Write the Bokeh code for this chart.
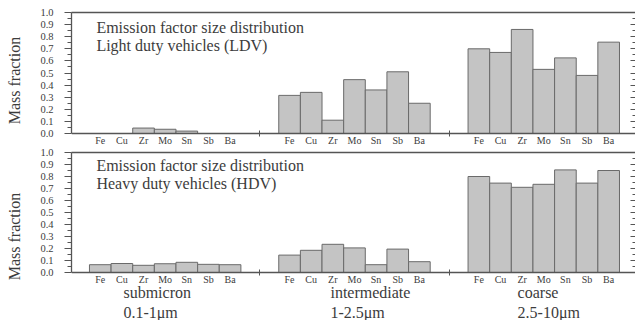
from bokeh.plotting import figure
from bokeh.models import FixedTicker, LinearAxis, Range1d, Label, PrintfTickFormatter
from bokeh.layouts import column
from bokeh.embed import file_html
from bokeh.resources import INLINE

# ---------------- data ----------------
elements = ["Fe", "Cu", "Zr", "Mo", "Sn", "Sb", "Ba"]
size_bins = ["submicron", "intermediate", "coarse"]
size_ranges = ["0.1-1\u03bcm", "1-2.5\u03bcm", "2.5-10\u03bcm"]

ldv_submicron = [0.0, 0.0, 0.045, 0.035, 0.02, 0.0, 0.0]
ldv_intermediate = [0.315, 0.34, 0.11, 0.445, 0.36, 0.51, 0.25]
ldv_coarse = [0.70, 0.67, 0.86, 0.53, 0.625, 0.48, 0.755]

hdv_submicron = [0.065, 0.075, 0.06, 0.073, 0.085, 0.068, 0.065]
hdv_intermediate = [0.145, 0.185, 0.235, 0.205, 0.065, 0.195, 0.09]
hdv_coarse = [0.80, 0.745, 0.71, 0.735, 0.855, 0.745, 0.85]

y_ticks = [0.0, 0.1, 0.2, 0.3, 0.4, 0.5, 0.6, 0.7, 0.8, 0.9, 1.0]
y_minor = [0.05, 0.15, 0.25, 0.35, 0.45, 0.55, 0.65, 0.75, 0.85, 0.95]

ldv_title = ["Emission factor size distribution", "Light duty vehicles (LDV)"]
hdv_title = ["Emission factor size distribution", "Heavy duty vehicles (HDV)"]

# ---------------- layout / style ----------------
FONT = "Liberation Serif"
GROUP_STEP = 8.75
TEXT = "#3c3c3c"
AXIS = "#555555"
BAR_FILL = "#c4c4c4"
BAR_LINE = "#6a6a6a"
group_label_x = [1.57, 11.14, 19.79]
group_label_y = [-0.17, -0.33]

centers = [g * GROUP_STEP + i + 0.5 for g in range(3) for i in range(len(elements))]
separators = [g * GROUP_STEP + len(elements) + (GROUP_STEP - len(elements)) / 2 for g in range(2)]


def make_panel(values_by_bin, title_lines, height, b_top, y_start, title_y, show_groups):
    p = figure(width=635, height=height, x_range=Range1d(-0.83, 25.24), y_range=Range1d(y_start, 1),
               output_backend="svg", toolbar_location=None,
               x_axis_location=None, y_axis_location=None,
               min_border_left=71, min_border_right=0, min_border_top=b_top,
               min_border_bottom=0)
    p.grid.visible = False
    p.outline_line_color = None
    p.background_fill_color = "white"
    p.border_fill_color = "white"

    xs, tops = [], []
    for g, vals in enumerate(values_by_bin):
        for i, v in enumerate(vals):
            xs.append(g * GROUP_STEP + i + 0.5)
            tops.append(v)
    p.vbar(x=xs, top=tops, bottom=0, width=1, fill_color=BAR_FILL, line_color=BAR_LINE, line_width=1)

    xa = LinearAxis(fixed_location=0)
    xa.ticker = FixedTicker(ticks=centers, minor_ticks=separators)
    xa.major_label_overrides = {c: elements[k % len(elements)] for k, c in enumerate(centers)}
    xa.major_tick_in = 0
    xa.major_tick_out = 0
    xa.minor_tick_in = 3
    xa.minor_tick_out = 3
    xa.minor_tick_line_color = AXIS
    xa.axis_line_color = AXIS
    xa.axis_line_width = 1.3
    xa.major_label_standoff = -2
    xa.major_label_text_font = FONT
    xa.major_label_text_font_size = "10px"
    xa.major_label_text_color = TEXT
    p.add_layout(xa, "below")

    ya = LinearAxis(bounds=(0, 1))
    ya.ticker = FixedTicker(ticks=y_ticks, minor_ticks=y_minor)
    ya.formatter = PrintfTickFormatter(format="%.1f")
    ya.major_tick_in = 0
    ya.major_tick_out = 7
    ya.minor_tick_in = 0
    ya.minor_tick_out = 4
    ya.major_tick_line_color = AXIS
    ya.minor_tick_line_color = AXIS
    ya.axis_line_color = AXIS
    ya.axis_line_width = 1.3
    ya.major_label_standoff = 11
    ya.major_label_text_font = FONT
    ya.major_label_text_font_size = "10.5px"
    ya.major_label_text_color = TEXT
    ya.axis_label = "Mass fraction"
    ya.axis_label_text_font = FONT
    ya.axis_label_text_font_size = "16px"
    ya.axis_label_text_font_style = "normal"
    ya.axis_label_text_color = TEXT
    ya.axis_label_standoff = 14
    p.add_layout(ya, "left")

    ra = LinearAxis(bounds=(0, 1), ticker=FixedTicker(ticks=y_ticks, minor_ticks=y_minor),
                    major_label_overrides={t: "" for t in y_ticks}, major_label_standoff=0,
                    major_tick_in=5, major_tick_out=0, minor_tick_in=3, minor_tick_out=0,
                    axis_line_color=None, major_tick_line_color=AXIS, minor_tick_line_color=AXIS)
    p.add_layout(ra, "right")

    ta = LinearAxis(ticker=FixedTicker(ticks=[]), major_label_standoff=0,
                    major_tick_in=0, major_tick_out=0, minor_tick_in=0, minor_tick_out=0,
                    axis_line_color=AXIS, axis_line_width=1.3)
    p.add_layout(ta, "above")

    for line, ty in zip(title_lines, title_y):
        p.add_layout(Label(x=0.32, y=ty, text=line, text_font=FONT, text_font_size="16px",
                           text_color=TEXT, text_baseline="middle", text_align="left"))

    if show_groups:
        for gx, name, rng in zip(group_label_x, size_bins, size_ranges):
            p.add_layout(Label(x=gx, y=group_label_y[0], text=name, text_font=FONT,
                               text_font_size="16px", text_color=TEXT,
                               text_baseline="middle", text_align="left"))
            p.add_layout(Label(x=gx, y=group_label_y[1], text=rng, text_font=FONT,
                               text_font_size="16px", text_color=TEXT,
                               text_baseline="middle", text_align="left"))
    return p


# top panel: frame 12..148 px, 0 at 133 px -> 121 px per unit
top = make_panel([ldv_submicron, ldv_intermediate, ldv_coarse], ldv_title,
                 height=148, b_top=12, y_start=-15 / 121, title_y=[0.878, 0.727], show_groups=False)
# bottom panel: frame 152..320 px, 0 at 272 px -> 120 px per unit
bottom = make_panel([hdv_submicron, hdv_intermediate, hdv_coarse], hdv_title,
                    height=172, b_top=4, y_start=-0.4, title_y=[0.892, 0.742], show_groups=True)

layout = column(top, bottom, spacing=0)
open("out.html", "w").write(file_html(layout, INLINE))
